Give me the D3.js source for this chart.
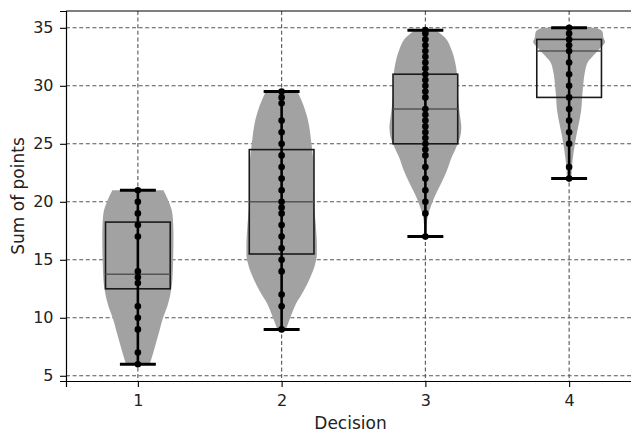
<!DOCTYPE html>
<html>
<head>
<meta charset="utf-8">
<script src="https://cdn.jsdelivr.net/npm/d3@7"></script>
<style>
  body { margin: 0; background: #fff; }
  svg { display: block; font-family: "DejaVu Sans", sans-serif; }
</style>
</head>
<body>
<div id="chart"></div>
<script>
// decisions on the x axis
const decisions = [1, 2, 3, 4];

// individual points per decision
const points1 = [6, 7, 9, 10, 11, 13, 13.5, 14, 17, 18, 19, 20, 21];
const points2 = [9, 11, 12, 14, 15, 16, 17, 18, 19, 19.5, 20, 21, 22, 23, 24, 25, 26, 27, 28.5, 29, 29.5];
const points3 = [17, 19, 20, 21, 22, 23, 24, 24.5, 25, 25.5, 26, 26.5, 27, 27.5, 28, 29, 29.5, 30, 30.5, 31, 31.5, 32, 32.5, 33, 33.5, 34, 34.5, 34.8];
const points4 = [22, 23, 25, 26, 27, 28, 29, 30, 31, 32, 33, 33.5, 34, 34.5, 35];

// box plot stats
const q1 = [12.5, 15.5, 25, 29];
const medians = [13.75, 20, 28, 33];
const q3 = [18.25, 24.5, 31, 34];
const whiskLo = [6, 9, 17, 22];
const whiskHi = [21, 29.5, 34.8, 35];

// violin outline: [value, relative half width]
const violin1 = [[6, 0.33], [7, 0.43], [8, 0.52], [9, 0.61], [10, 0.70], [11, 0.82], [12.5, 0.93], [13.3, 0.96], [15, 0.98], [17, 0.99], [18.2, 0.98], [19, 0.96], [20, 0.86], [21, 0.71]];
const violin2 = [[9, 0.12], [10, 0.24], [11.2, 0.40], [12.3, 0.61], [13.5, 0.80], [14.6, 0.93], [15.5, 0.98], [16.3, 0.98], [18, 0.95], [20, 0.9], [23, 0.89], [25, 0.83], [27.2, 0.72], [28.3, 0.61], [29.5, 0.44]];
const violin3 = [[17, 0.02], [18.1, 0.04], [18.8, 0.07], [19.5, 0.14], [20.4, 0.25], [21.6, 0.44], [22.7, 0.6], [23.9, 0.74], [24.7, 0.86], [25.6, 0.97], [26.4, 1.0], [27.3, 0.97], [28.5, 0.92], [29.6, 0.9], [31, 0.88], [32, 0.83], [33, 0.74], [34.2, 0.53], [34.8, 0.3]];
const violin4 = [[22, 0.06], [23.4, 0.09], [24.6, 0.14], [25.7, 0.2], [26.9, 0.28], [28, 0.34], [28.9, 0.36], [30, 0.39], [31.2, 0.44], [32.1, 0.53], [32.6, 0.67], [33.2, 0.85], [33.8, 1.0], [34.1, 0.96], [34.65, 0.93], [35, 0.76]];

const yTicks = [5, 10, 15, 20, 25, 30, 35];

const allPoints = [points1, points2, points3, points4];
const violins = [violin1, violin2, violin3, violin4];

const W = 631, H = 433;
const margin = { top: 11, left: 66, bottom: 52 };
const plotRight = 641;

const svg = d3.select("#chart").append("svg")
  .attr("width", W)
  .attr("height", H);

const x = d3.scaleLinear().domain([0.5, 4.5]).range([margin.left, plotRight]);
const y = d3.scaleLinear().domain([4.55, 36.45]).range([H - margin.bottom, margin.top]);

// grid
const grid = svg.append("g");
grid.selectAll(".hg").data(yTicks).join("line")
  .attr("x1", margin.left).attr("x2", plotRight)
  .attr("y1", d => y(d)).attr("y2", d => y(d))
  .attr("stroke", "#555").attr("stroke-width", 1.1).attr("stroke-dasharray", "4,2.6");
grid.selectAll(".vg").data(decisions).join("line")
  .attr("x1", d => x(d)).attr("x2", d => x(d))
  .attr("y1", margin.top).attr("y2", H - margin.bottom)
  .attr("stroke", "#555").attr("stroke-width", 1.1).attr("stroke-dasharray", "4,2.6");

// violins
const halfW = 0.25;
violins.forEach((v, i) => {
  const c = decisions[i];
  const area = d3.area()
    .y(d => y(d[0]))
    .x0(d => x(c - halfW * d[1]))
    .x1(d => x(c + halfW * d[1]))
    .curve(d3.curveMonotoneY);
  svg.append("path")
    .datum(v)
    .attr("d", area)
    .attr("fill", "#a2a2a2");
});

// boxes
const boxW = 0.225;
decisions.forEach((c, i) => {
  svg.append("rect")
    .attr("x", x(c - boxW))
    .attr("width", x(c + boxW) - x(c - boxW))
    .attr("y", y(q3[i]))
    .attr("height", y(q1[i]) - y(q3[i]))
    .attr("fill", "none")
    .attr("stroke", "#1a1a1a")
    .attr("stroke-width", 1.6);
  svg.append("line")
    .attr("x1", x(c - boxW)).attr("x2", x(c + boxW))
    .attr("y1", y(medians[i])).attr("y2", y(medians[i]))
    .attr("stroke", "#555").attr("stroke-width", 1.6);
});

// whiskers
const capW = 0.125;
decisions.forEach((c, i) => {
  svg.append("line")
    .attr("x1", x(c)).attr("x2", x(c))
    .attr("y1", y(whiskLo[i])).attr("y2", y(whiskHi[i]))
    .attr("stroke", "#000").attr("stroke-width", 2.6);
  [whiskLo[i], whiskHi[i]].forEach(v => {
    svg.append("line")
      .attr("x1", x(c - capW)).attr("x2", x(c + capW))
      .attr("y1", y(v)).attr("y2", y(v))
      .attr("stroke", "#000").attr("stroke-width", 3);
  });
});

// points
allPoints.forEach((pts, i) => {
  svg.append("g").selectAll("circle").data(pts).join("circle")
    .attr("cx", x(decisions[i]))
    .attr("cy", d => y(d))
    .attr("r", 3.3)
    .attr("fill", "#000");
});

// axes
const xAxis = svg.append("g")
  .attr("transform", `translate(0,${H - margin.bottom})`)
  .call(d3.axisBottom(x).tickValues(decisions).tickSize(6).tickPadding(8).tickFormat(d3.format("d")));
const yAxis = svg.append("g")
  .attr("transform", `translate(${margin.left},0)`)
  .call(d3.axisLeft(y).tickValues(yTicks).tickSize(6).tickPadding(6.5));

[xAxis, yAxis].forEach(a => {
  a.select(".domain").attr("stroke", "#000").attr("stroke-width", 1.2);
  a.selectAll(".tick line").attr("stroke", "#000").attr("stroke-width", 1.1);
  a.selectAll(".tick text").attr("font-size", 16).attr("fill", "#222")
    .attr("font-family", "DejaVu Sans");
});

// top spine
svg.append("line")
  .attr("x1", margin.left).attr("x2", plotRight)
  .attr("y1", margin.top).attr("y2", margin.top)
  .attr("stroke", "#000").attr("stroke-width", 1.2);

svg.append("text")
  .attr("x", (margin.left + plotRight) / 2 - 3)
  .attr("y", 429)
  .attr("text-anchor", "middle")
  .attr("font-size", 17)
  .attr("fill", "#222")
  .text("Decision");

svg.append("text")
  .attr("transform", `translate(24,${(margin.top + H - margin.bottom) / 2}) rotate(-90)`)
  .attr("text-anchor", "middle")
  .attr("font-size", 17)
  .attr("fill", "#222")
  .text("Sum of points");
</script>
</body>
</html>
